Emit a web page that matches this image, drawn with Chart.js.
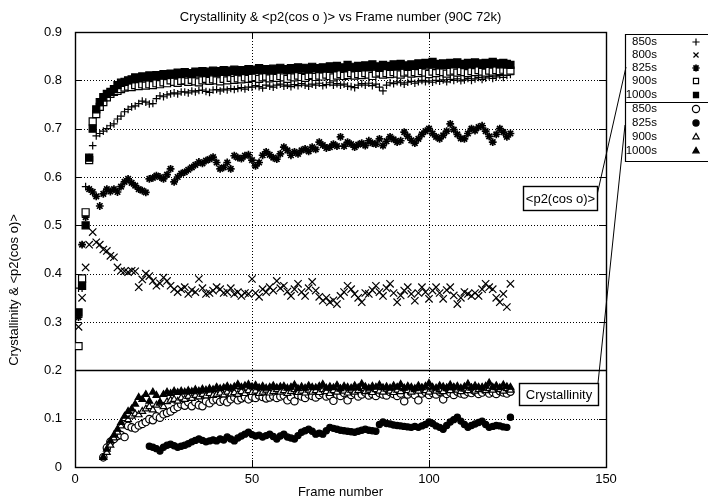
<!DOCTYPE html>
<html><head><meta charset="utf-8">
<script src="https://cdn.jsdelivr.net/npm/chart.js@4/dist/chart.umd.min.js"></script>
<style>html,body{margin:0;padding:0;background:#fff}canvas{display:block}</style>
</head><body>
<canvas id="c" width="708" height="501"></canvas>
<script>
// ---------- DATA ----------
const titleText = 'Crystallinity & <p2(cos o )> vs Frame number (90C 72k)';
const xTitle = 'Frame number';
const yTitle = 'Crystallinity & <p2(cos o)>';
const xTickValues = [0, 50, 100, 150];
const yTickLabels = ['0', '0.1', '0.2', '0.3', '0.4', '0.5', '0.6', '0.7', '0.8', '0.9'];

function range(a, b) { const r = []; for (let i = a; i <= b; i++) r.push(i); return r; }
const p2Frames = range(1, 123);      // frame numbers of the <p2> series
const crystFrames = range(8, 123);   // crystallinity 850s/900s/1000s
const c825Frames = range(21, 123);   // crystallinity 825s

// <p2(cos o)>
const p2_850 = [0.37,0.37,0.58,0.64,0.665,0.685,0.69,0.695,0.70,0.706,
0.71,0.72,0.726,0.735,0.74,0.745,0.747,0.752,0.757,0.755,
0.751,0.752,0.762,0.768,0.766,0.77,0.772,0.774,0.772,0.776,
0.776,0.774,0.778,0.776,0.779,0.78,0.777,0.775,0.78,0.781,
0.778,0.782,0.78,0.783,0.781,0.783,0.785,0.782,0.786,0.786,
0.789,0.787,0.784,0.79,0.788,0.786,0.79,0.792,0.788,0.79,
0.787,0.791,0.789,0.793,0.79,0.788,0.792,0.79,0.794,0.789,
0.791,0.795,0.79,0.793,0.79,0.792,0.788,0.787,0.785,0.79,
0.793,0.79,0.794,0.789,0.792,0.786,0.778,0.79,0.795,0.793,
0.797,0.795,0.792,0.796,0.798,0.794,0.797,0.8,0.797,0.799,
0.796,0.8,0.798,0.801,0.797,0.802,0.8,0.803,0.799,0.801,
0.804,0.8,0.803,0.806,0.802,0.805,0.808,0.804,0.807,0.81,
0.806,0.81,0.812];
const p2_800 = [0.29,0.35,0.413,0.46,0.486,0.465,0.46,0.45,0.447,0.437,
0.434,0.413,0.406,0.405,0.403,0.406,0.405,0.372,0.388,0.40,
0.395,0.385,0.375,0.38,0.392,0.385,0.375,0.368,0.362,0.368,
0.372,0.358,0.366,0.362,0.389,0.37,0.358,0.36,0.365,0.372,
0.368,0.36,0.362,0.37,0.358,0.362,0.354,0.36,0.358,0.389,
0.36,0.352,0.368,0.362,0.372,0.365,0.385,0.37,0.375,0.363,
0.354,0.368,0.379,0.362,0.354,0.37,0.383,0.365,0.352,0.344,
0.35,0.341,0.345,0.337,0.354,0.362,0.375,0.368,0.358,0.35,
0.341,0.36,0.358,0.366,0.375,0.362,0.354,0.37,0.379,0.36,
0.341,0.355,0.365,0.372,0.358,0.344,0.36,0.372,0.362,0.348,
0.365,0.372,0.36,0.348,0.366,0.372,0.355,0.337,0.35,0.362,
0.358,0.354,0.36,0.354,0.368,0.379,0.372,0.368,0.35,0.341,
0.358,0.331,0.379];
const p2_825 = [0.31,0.46,0.517,0.575,0.569,0.56,0.54,0.565,0.575,0.57,
0.575,0.569,0.58,0.59,0.596,0.588,0.582,0.575,0.572,0.568,
0.596,0.598,0.603,0.60,0.596,0.605,0.617,0.59,0.60,0.607,
0.61,0.615,0.62,0.625,0.631,0.628,0.634,0.637,0.641,0.63,
0.617,0.62,0.63,0.617,0.644,0.64,0.638,0.644,0.646,0.635,
0.623,0.63,0.645,0.652,0.646,0.64,0.637,0.648,0.662,0.655,
0.645,0.652,0.648,0.655,0.658,0.653,0.662,0.657,0.672,0.666,
0.66,0.662,0.668,0.664,0.683,0.664,0.672,0.668,0.662,0.667,
0.67,0.665,0.675,0.67,0.668,0.679,0.665,0.674,0.683,0.678,
0.672,0.675,0.693,0.684,0.676,0.67,0.679,0.688,0.695,0.70,
0.69,0.683,0.679,0.686,0.695,0.71,0.698,0.688,0.68,0.679,
0.69,0.70,0.696,0.703,0.706,0.695,0.684,0.672,0.688,0.70,
0.693,0.683,0.69];
const p2_900 = [0.25,0.39,0.527,0.635,0.715,0.73,0.745,0.755,0.765,0.772,
0.776,0.778,0.782,0.785,0.787,0.786,0.79,0.788,0.792,0.789,
0.792,0.79,0.794,0.792,0.796,0.794,0.80,0.797,0.795,0.799,
0.80,0.797,0.801,0.798,0.796,0.80,0.803,0.799,0.802,0.80,
0.798,0.803,0.80,0.805,0.801,0.804,0.802,0.806,0.803,0.805,
0.807,0.803,0.806,0.808,0.804,0.807,0.805,0.809,0.806,0.803,
0.808,0.806,0.81,0.807,0.805,0.809,0.811,0.807,0.81,0.808,
0.812,0.809,0.806,0.81,0.813,0.809,0.811,0.815,0.81,0.813,
0.811,0.815,0.812,0.809,0.814,0.816,0.812,0.815,0.813,0.817,
0.814,0.812,0.816,0.818,0.814,0.817,0.815,0.819,0.816,0.813,
0.818,0.815,0.819,0.817,0.814,0.818,0.82,0.816,0.819,0.817,
0.815,0.819,0.817,0.821,0.818,0.816,0.82,0.818,0.821,0.819,
0.822,0.818,0.82];
const p2_1000 = [0.32,0.375,0.50,0.64,0.70,0.74,0.755,0.765,0.772,0.776,
0.782,0.79,0.795,0.797,0.80,0.802,0.806,0.804,0.808,0.806,
0.81,0.808,0.811,0.81,0.813,0.811,0.814,0.812,0.816,0.813,
0.817,0.815,0.813,0.818,0.816,0.819,0.815,0.818,0.82,0.816,
0.819,0.821,0.817,0.82,0.822,0.818,0.821,0.819,0.823,0.82,
0.822,0.825,0.821,0.823,0.82,0.824,0.822,0.826,0.823,0.821,
0.825,0.823,0.827,0.824,0.826,0.822,0.828,0.825,0.823,0.827,
0.824,0.829,0.826,0.83,0.827,0.825,0.832,0.828,0.826,0.83,
0.827,0.831,0.828,0.833,0.829,0.826,0.832,0.83,0.828,0.833,
0.83,0.834,0.831,0.828,0.833,0.83,0.835,0.832,0.836,0.833,
0.838,0.834,0.831,0.835,0.832,0.836,0.833,0.837,0.834,0.832,
0.836,0.833,0.837,0.835,0.832,0.836,0.834,0.838,0.835,0.833,
0.836,0.834,0.832];

// Crystallinity
const cr_850 = [0.02,0.04,0.052,0.058,0.064,0.066,0.062,0.085,0.082,0.08,
0.086,0.089,0.093,0.099,0.097,0.105,0.102,0.109,0.112,0.115,
0.12,0.124,0.13,0.127,0.134,0.126,0.134,0.128,0.126,0.136,
0.132,0.138,0.14,0.135,0.138,0.134,0.14,0.144,0.138,0.142,
0.145,0.14,0.146,0.143,0.148,0.145,0.142,0.144,0.147,0.143,
0.146,0.148,0.138,0.145,0.136,0.149,0.146,0.143,0.15,0.147,
0.144,0.149,0.152,0.146,0.148,0.137,0.15,0.147,0.153,0.138,
0.149,0.152,0.146,0.15,0.154,0.148,0.151,0.147,0.153,0.15,
0.148,0.155,0.151,0.147,0.152,0.136,0.15,0.154,0.149,0.138,
0.152,0.155,0.149,0.153,0.15,0.156,0.14,0.151,0.154,0.149,
0.156,0.152,0.15,0.155,0.153,0.157,0.151,0.154,0.158,0.152,
0.155,0.151,0.157,0.154,0.152,0.156];
const cr_825 = [0.043,0.041,0.038,0.033,0.041,0.045,0.047,0.044,0.041,0.043,
0.045,0.048,0.052,0.055,0.058,0.055,0.052,0.054,0.056,0.054,
0.058,0.056,0.062,0.058,0.054,0.06,0.064,0.068,0.072,0.067,
0.064,0.066,0.062,0.065,0.068,0.063,0.058,0.064,0.068,0.062,
0.06,0.058,0.065,0.072,0.075,0.078,0.074,0.068,0.07,0.068,
0.075,0.082,0.08,0.078,0.076,0.075,0.074,0.073,0.072,0.074,
0.076,0.078,0.076,0.075,0.074,0.088,0.093,0.09,0.089,0.087,
0.086,0.085,0.084,0.083,0.082,0.084,0.082,0.085,0.088,0.093,
0.09,0.085,0.082,0.078,0.086,0.093,0.098,0.103,0.095,0.088,
0.082,0.086,0.089,0.092,0.095,0.088,0.082,0.084,0.086,0.085,
0.083,0.082,0.103];
const cr_900 = [0.02,0.03,0.045,0.06,0.072,0.085,0.1,0.098,0.105,0.11,
0.108,0.115,0.12,0.125,0.118,0.128,0.132,0.125,0.135,0.138,
0.14,0.136,0.143,0.14,0.146,0.142,0.148,0.145,0.15,0.147,
0.152,0.148,0.15,0.153,0.149,0.155,0.151,0.154,0.15,0.156,
0.152,0.158,0.154,0.157,0.152,0.155,0.159,0.153,0.156,0.16,
0.155,0.158,0.152,0.156,0.16,0.154,0.157,0.153,0.159,0.155,
0.158,0.154,0.16,0.156,0.152,0.158,0.155,0.161,0.157,0.153,
0.159,0.155,0.158,0.162,0.156,0.159,0.154,0.16,0.157,0.155,
0.161,0.157,0.154,0.159,0.156,0.162,0.158,0.155,0.16,0.157,
0.163,0.158,0.155,0.161,0.157,0.16,0.156,0.162,0.158,0.164,
0.159,0.156,0.161,0.158,0.163,0.157,0.16,0.165,0.158,0.162,
0.159,0.164,0.16,0.157,0.162,0.159];
const cr_1000 = [0.02,0.037,0.054,0.066,0.078,0.092,0.105,0.115,0.12,0.13,
0.144,0.14,0.15,0.136,0.155,0.148,0.134,0.15,0.155,0.152,
0.157,0.154,0.157,0.155,0.158,0.156,0.16,0.157,0.161,0.159,
0.162,0.16,0.165,0.162,0.164,0.167,0.163,0.166,0.171,0.165,
0.168,0.171,0.166,0.169,0.164,0.167,0.163,0.165,0.168,0.164,
0.166,0.167,0.163,0.165,0.17,0.162,0.166,0.163,0.168,0.165,
0.164,0.167,0.171,0.163,0.166,0.164,0.169,0.162,0.167,0.165,
0.163,0.168,0.164,0.172,0.166,0.163,0.167,0.165,0.17,0.164,
0.166,0.163,0.168,0.165,0.171,0.163,0.167,0.165,0.162,0.168,
0.164,0.167,0.173,0.165,0.163,0.168,0.166,0.164,0.17,0.165,
0.167,0.163,0.166,0.172,0.164,0.168,0.165,0.163,0.167,0.174,
0.165,0.168,0.164,0.17,0.166,0.165];

// ---------- CHART ----------
const FONT = '"Liberation Sans", Arial, Helvetica, sans-serif';
function pts(xs, ys) { const o = []; for (let i = 0; i < xs.length; i++) if (ys[i] !== undefined) o.push({x: xs[i], y: ys[i]}); return o; }

const series = [
  {label: '850s', x: p2Frames, y: p2_850, style: 'cross', r: 3.8, fill: false, bw: 1.2},
  {label: '800s', x: p2Frames, y: p2_800, style: 'crossRot', r: 5.2, fill: false, bw: 1.2},
  {label: '825s', x: p2Frames, y: p2_825, style: 'star', r: 3.9, fill: false, bw: 1.7},
  {label: '900s', x: p2Frames, y: p2_900, style: 'rect', r: 5, fill: false, bw: 1.2},
  {label: '1000s', x: p2Frames, y: p2_1000, style: 'rect', r: 5, fill: true, bw: 1.2},
  {label: '850s', x: crystFrames, y: cr_850, style: 'circle', r: 3.7, fill: false, bw: 1.2},
  {label: '825s', x: c825Frames, y: cr_825, style: 'circle', r: 3.1, fill: true, bw: 1.2},
  {label: '900s', x: crystFrames, y: cr_900, style: 'triangle', r: 3.9, fill: false, bw: 1.2},
  {label: '1000s', x: crystFrames, y: cr_1000, style: 'triangle', r: 3.9, fill: true, bw: 1.2}
];

const datasets = series.map((s, i) => ({
  label: s.label,
  data: pts(s.x, s.y),
  showLine: false,
  pointStyle: s.style,
  pointRadius: s.r,
  pointHoverRadius: s.r,
  pointBorderWidth: s.bw,
  borderColor: '#000',
  pointBorderColor: '#000',
  pointBackgroundColor: s.fill ? '#000' : '#fff',
  backgroundColor: s.fill ? '#000' : '#fff',
  order: series.length - i
}));

function drawMarker(ctx, s, x, y) {
  ctx.save();
  ctx.strokeStyle = '#000';
  ctx.fillStyle = s.fill ? '#000' : '#fff';
  ctx.lineWidth = s.bw;
  const r = s.r;
  ctx.beginPath();
  if (s.style === 'cross') { ctx.moveTo(x - r, y); ctx.lineTo(x + r, y); ctx.moveTo(x, y - r); ctx.lineTo(x, y + r); ctx.stroke(); }
  else if (s.style === 'crossRot') { const d = r * Math.SQRT1_2; ctx.moveTo(x - d, y - d); ctx.lineTo(x + d, y + d); ctx.moveTo(x + d, y - d); ctx.lineTo(x - d, y + d); ctx.stroke(); }
  else if (s.style === 'star') { const d = r * Math.SQRT1_2; ctx.moveTo(x - r, y); ctx.lineTo(x + r, y); ctx.moveTo(x, y - r); ctx.lineTo(x, y + r); ctx.moveTo(x - d, y - d); ctx.lineTo(x + d, y + d); ctx.moveTo(x + d, y - d); ctx.lineTo(x - d, y + d); ctx.stroke(); }
  else if (s.style === 'rect') { const d = r * Math.SQRT1_2; ctx.rect(x - d, y - d, 2 * d, 2 * d); ctx.fill(); ctx.stroke(); }
  else if (s.style === 'circle') { ctx.arc(x, y, r, 0, Math.PI * 2); ctx.fill(); ctx.stroke(); }
  else if (s.style === 'triangle') { ctx.moveTo(x, y - r); ctx.lineTo(x + r * 0.866, y + r * 0.5); ctx.lineTo(x - r * 0.866, y + r * 0.5); ctx.closePath(); ctx.fill(); ctx.stroke(); }
  ctx.restore();
}

const gridPlugin = {
  id: 'gridPlugin',
  beforeDatasetsDraw(chart) {
    const {ctx, chartArea: a, scales: {x, y}} = chart;
    ctx.save();
    ctx.strokeStyle = '#000';
    ctx.lineWidth = 1;
    ctx.setLineDash([1, 2]);
    yTickLabels.forEach((_, i) => {
      if (i === 0 || i === 9 || i === 2) return;
      const py = Math.round(y.getPixelForValue(i / 10)) + 0.5;
      ctx.beginPath(); ctx.moveTo(a.left, py); ctx.lineTo(a.right, py); ctx.stroke();
    });
    xTickValues.forEach(v => {
      if (v === 0 || v === 150) return;
      const px = Math.round(x.getPixelForValue(v)) + 0.5;
      ctx.beginPath(); ctx.moveTo(px, a.top); ctx.lineTo(px, a.bottom); ctx.stroke();
    });
    ctx.setLineDash([]);
    // solid separator at 0.2
    const p02 = Math.round(y.getPixelForValue(0.2)) + 0.5;
    ctx.lineWidth = 1.5;
    ctx.beginPath(); ctx.moveTo(a.left, p02); ctx.lineTo(a.right, p02); ctx.stroke();
    // inward ticks
    ctx.lineWidth = 1;
    const tl = 7;
    yTickLabels.forEach((_, i) => {
      const py = Math.round(y.getPixelForValue(i / 10)) + 0.5;
      ctx.beginPath(); ctx.moveTo(a.left, py); ctx.lineTo(a.left + tl, py);
      ctx.moveTo(a.right, py); ctx.lineTo(a.right - tl, py); ctx.stroke();
    });
    xTickValues.forEach(v => {
      const px = Math.round(x.getPixelForValue(v)) + 0.5;
      ctx.beginPath(); ctx.moveTo(px, a.bottom); ctx.lineTo(px, a.bottom - tl);
      ctx.moveTo(px, a.top); ctx.lineTo(px, a.top + tl); ctx.stroke();
    });
    // frame
    ctx.lineWidth = 1.4;
    ctx.strokeRect(Math.round(a.left) + 0.5, Math.round(a.top) + 0.5, Math.round(a.right - a.left), Math.round(a.bottom - a.top));
    ctx.restore();
  },
  afterDraw(chart) {
    const {ctx, chartArea: a} = chart;
    ctx.save();
    ctx.fillStyle = '#000';
    ctx.strokeStyle = '#000';
    // title
    ctx.font = '13px ' + FONT;
    ctx.textAlign = 'center'; ctx.textBaseline = 'middle';
    ctx.fillText(titleText, (a.left + a.right) / 2, 17);
    // x title
    ctx.fillText(xTitle, (a.left + a.right) / 2, 492);
    // y title
    ctx.save();
    ctx.translate(14, 290);
    ctx.rotate(-Math.PI / 2);
    ctx.fillText(yTitle, 0, 0);
    ctx.restore();

    // legend box
    const L = 625.5, T = 34.5, B = 161.5;
    ctx.lineWidth = 1.2;
    ctx.beginPath();
    ctx.moveTo(710, T); ctx.lineTo(L, T); ctx.lineTo(L, B); ctx.lineTo(710, B);
    ctx.moveTo(L, 102.5); ctx.lineTo(710, 102.5);
    ctx.stroke();
    const rows = [42, 55, 68, 81, 95, 109, 123, 137, 151];
    ctx.font = '11.5px ' + FONT;
    ctx.textAlign = 'right'; ctx.textBaseline = 'middle';
    series.forEach((s, i) => {
      ctx.fillStyle = '#000';
      ctx.fillText(s.label, 657, rows[i]);
      drawMarker(ctx, Object.assign({}, s, {r: Math.min(s.r, 3.6)}), 696, rows[i]);
    });

    // annotation boxes
    ctx.font = '13px ' + FONT;
    ctx.textAlign = 'center';
    ctx.fillStyle = '#fff';
    ctx.fillRect(523, 186, 74, 24);
    ctx.fillRect(519, 383, 79, 22);
    ctx.fillStyle = '#000';
    ctx.lineWidth = 1.4;
    ctx.strokeRect(523.5, 186.5, 74, 24);
    ctx.strokeRect(519.5, 383.5, 79, 22);
    ctx.fillText('<p2(cos o)>', 560.5, 199);
    ctx.fillText('Crystallinity', 559, 395);
    // connector lines
    ctx.lineWidth = 1;
    ctx.beginPath();
    ctx.moveTo(626, 67); ctx.lineTo(597.5, 193);
    ctx.moveTo(625, 125); ctx.lineTo(598, 383);
    ctx.stroke();
    ctx.restore();
  }
};

new Chart(document.getElementById('c'), {
  type: 'scatter',
  data: {datasets},
  options: {
    responsive: false,
    animation: false,
    devicePixelRatio: 1,
    layout: {padding: {top: 32, right: 102, left: 0, bottom: 0}},
    plugins: {legend: {display: false}, title: {display: false}, tooltip: {enabled: false}},
    scales: {
      x: {
        type: 'linear', min: 0, max: 150,
        afterFit: s => { s.height = 34; },
        afterBuildTicks: s => { s.ticks = xTickValues.map(v => ({value: v})); },
        grid: {display: false, drawTicks: false},
        border: {display: false},
        ticks: {color: '#000', padding: 5, font: {family: FONT, size: 13}, maxRotation: 0, callback: v => String(v)}
      },
      y: {
        type: 'linear', min: 0, max: 0.9,
        afterFit: s => { s.width = 75; },
        afterBuildTicks: s => { s.ticks = yTickLabels.map((_, i) => ({value: i / 10})); },
        grid: {display: false, drawTicks: false},
        border: {display: false},
        ticks: {color: '#000', padding: 13, font: {family: FONT, size: 13}, callback: (v) => yTickLabels[Math.round(v * 10)]}
      }
    }
  },
  plugins: [gridPlugin]
});
</script>
</body></html>
